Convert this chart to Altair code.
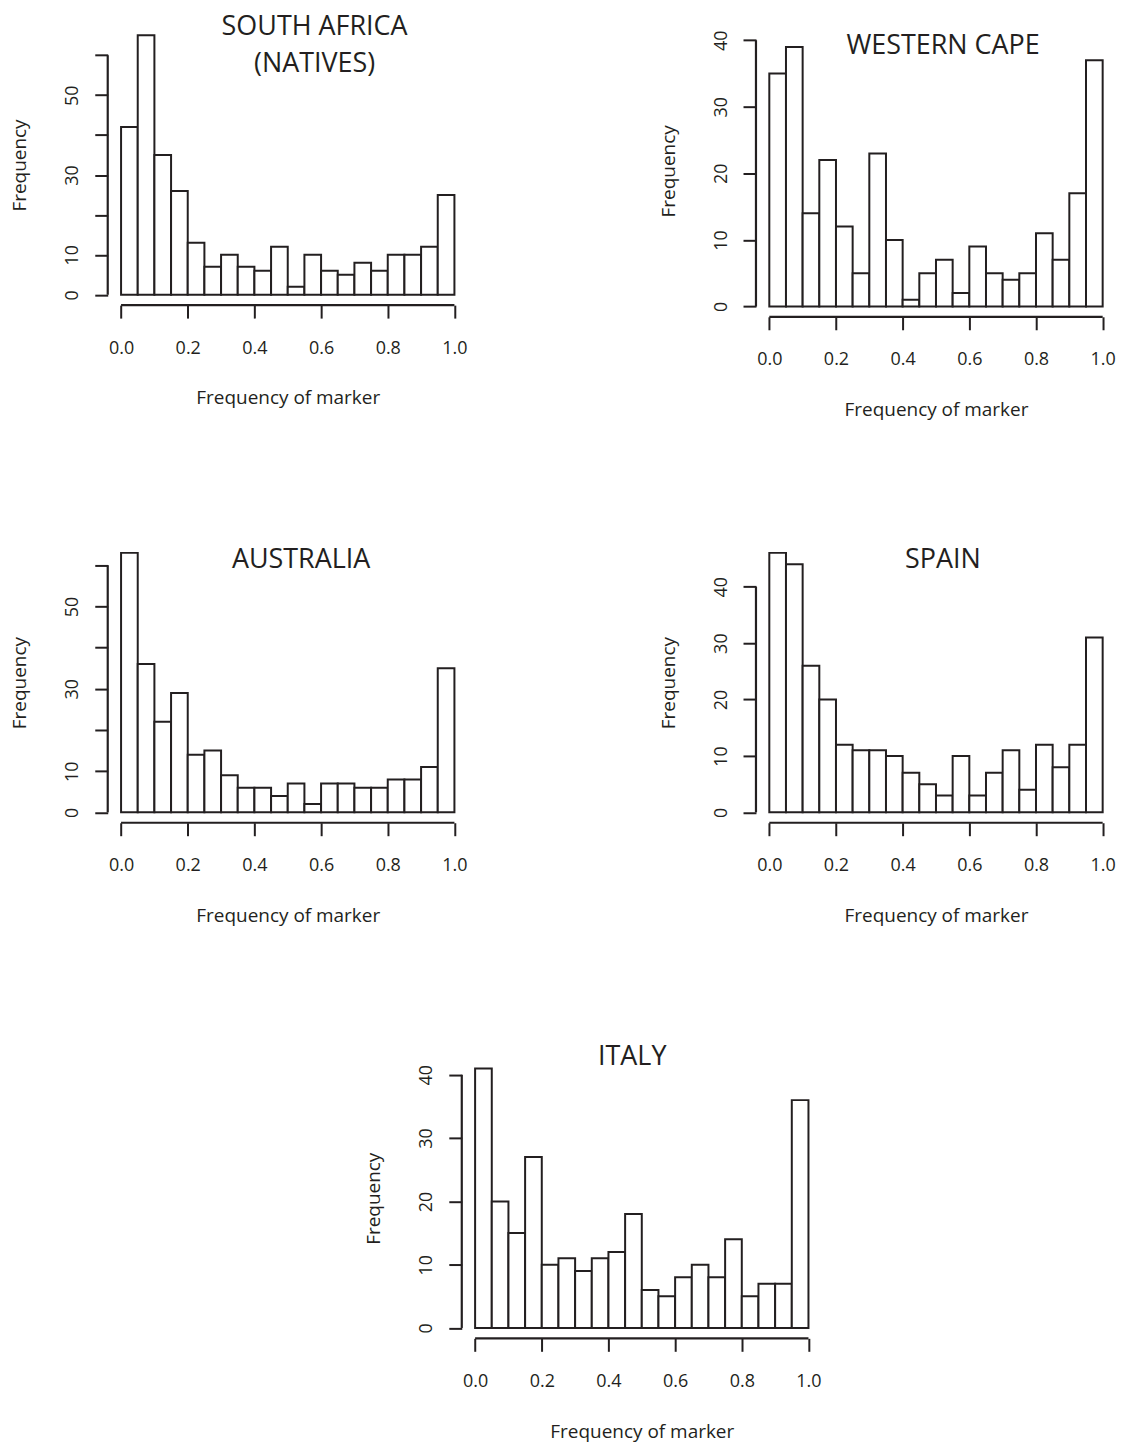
import altair as alt
import pandas as pd

INK = "#231f20"
FONT = "Open Sans"

BIN_EDGES = [0.00, 0.05, 0.10, 0.15, 0.20, 0.25, 0.30, 0.35, 0.40, 0.45, 0.50,
             0.55, 0.60, 0.65, 0.70, 0.75, 0.80, 0.85, 0.90, 0.95, 1.00]
X_TICKS = [0.0, 0.2, 0.4, 0.6, 0.8, 1.0]
X_TITLE = "Frequency of marker"
Y_TITLE = "Frequency"

SA_TITLE = ["SOUTH AFRICA", "(NATIVES)"]
SA_COUNTS = [42, 65, 35, 26, 13, 7, 10, 7, 6, 12, 2, 10, 6, 5, 8, 6, 10, 10, 12, 25]
SA_YTICKS = [0, 10, 20, 30, 40, 50, 60]
SA_YLABELS = [0, 10, 30, 50]

WC_TITLE = ["WESTERN CAPE"]
WC_COUNTS = [35, 39, 14, 22, 12, 5, 23, 10, 1, 5, 7, 2, 9, 5, 4, 5, 11, 7, 17, 37]
WC_YTICKS = [0, 10, 20, 30, 40]
WC_YLABELS = [0, 10, 20, 30, 40]

AU_TITLE = ["AUSTRALIA"]
AU_COUNTS = [63, 36, 22, 29, 14, 15, 9, 6, 6, 4, 7, 2, 7, 7, 6, 6, 8, 8, 11, 35]
AU_YTICKS = [0, 10, 20, 30, 40, 50, 60]
AU_YLABELS = [0, 10, 30, 50]

ES_TITLE = ["SPAIN"]
ES_COUNTS = [46, 44, 26, 20, 12, 11, 11, 10, 7, 5, 3, 10, 3, 7, 11, 4, 12, 8, 12, 31]
ES_YTICKS = [0, 10, 20, 30, 40]
ES_YLABELS = [0, 10, 20, 30, 40]

IT_TITLE = ["ITALY"]
IT_COUNTS = [41, 20, 15, 27, 10, 11, 9, 11, 12, 18, 6, 5, 8, 10, 8, 14, 5, 7, 7, 36]
IT_YTICKS = [0, 10, 20, 30, 40]
IT_YLABELS = [0, 10, 20, 30, 40]

PLOT_W = 361
PLOT_H = 281


def panel(title, counts, yticks, ylabels, extra_top, title_x, title_y):
    ymax = max(counts)
    ppu = PLOT_H / (1.08 * ymax)
    dom = [-0.04 * ymax, 1.04 * ymax + extra_top / ppu]
    h = PLOT_H + extra_top
    df = pd.DataFrame({"lo": BIN_EDGES[:-1], "hi": BIN_EDGES[1:], "n": counts})
    xs = alt.Scale(domain=[-0.04, 1.04], nice=False, zero=False)
    ys = alt.Scale(domain=dom, nice=False, zero=False)
    lbl = ",".join(str(v) for v in ylabels)
    xaxis = alt.Axis(values=X_TICKS, format=".1f", title=X_TITLE,
                     labelPadding=21, titlePadding=32)
    yaxis = alt.Axis(values=yticks, title=Y_TITLE, labelAngle=270,
                     labelAlign="center", labelBaseline="bottom",
                     labelPadding=13,
                     labelExpr=f"indexof([{lbl}], datum.value) >= 0 ? datum.label : ''",
                     titlePadding=34)
    bars = alt.Chart(df).mark_rect(fill="white", stroke=INK, strokeWidth=2).encode(
        x=alt.X("lo:Q", scale=xs, axis=xaxis),
        x2="hi",
        y=alt.Y("n:Q", scale=ys, axis=yaxis),
        y2=alt.datum(0),
    )
    ydf = pd.DataFrame({"a": [yticks[0]], "b": [yticks[-1]]})
    yline = alt.Chart(ydf).mark_rule(stroke=INK, strokeWidth=2.2).encode(
        y=alt.Y("a:Q", scale=ys, axis=yaxis), y2="b", x=alt.value(0))
    xdf = pd.DataFrame({"a": [X_TICKS[0]], "b": [X_TICKS[-1]]})
    xline = alt.Chart(xdf).mark_rule(stroke=INK, strokeWidth=2.2).encode(
        x=alt.X("a:Q", scale=xs, axis=xaxis), x2="b", y=alt.value(h))
    tdf = pd.DataFrame({"t": ["\n".join(title)]})
    ttl = alt.Chart(tdf).mark_text(
        font=FONT, fontSize=27, color=INK, align="center", baseline="alphabetic",
        lineBreak="\n", lineHeight=37.5,
    ).encode(text="t:N", x=alt.value(title_x), y=alt.value(title_y))
    return alt.layer(bars, yline, xline, ttl).properties(width=PLOT_W, height=h)


sa = panel(SA_TITLE, SA_COUNTS, SA_YTICKS, SA_YLABELS, 0, 207.4, 10)
wc = panel(WC_TITLE, WC_COUNTS, WC_YTICKS, WC_YLABELS, 11.7, 187.6, 29)
au = panel(AU_TITLE, AU_COUNTS, AU_YTICKS, AU_YLABELS, 0, 193.9, 26)
es = panel(ES_TITLE, ES_COUNTS, ES_YTICKS, ES_YLABELS, 0, 187.4, 26)
it = panel(IT_TITLE, IT_COUNTS, IT_YTICKS, IT_YLABELS, 0, 170.9, 6.8)

spacer = alt.Chart(pd.DataFrame({"v": [0]})).mark_point(opacity=0).encode(
    x=alt.value(0), y=alt.value(0)).properties(width=258, height=1)

row1 = alt.hconcat(sa, wc, spacing=192)
row2 = alt.hconcat(au, es, spacing=192)
row3 = alt.hconcat(spacer, it, spacing=0)

top_rows = alt.vconcat(row1, row2, spacing=123)

chart = alt.vconcat(top_rows, row3, spacing=117).properties(
    padding={"left": 2, "top": 3, "right": 0, "bottom": 0}
).configure_view(strokeWidth=0).configure_axis(
    domain=False, grid=False, ticks=True, tickSize=13, tickWidth=2, tickColor=INK,
    labelFont=FONT, labelFontSize=18, labelColor=INK, labelFlush=False, labelOverlap=False,
    titleFont=FONT, titleFontSize=19, titleFontWeight="normal", titleColor=INK,
)

chart.save("out.html", embed_options={"renderer": "svg", "actions": False})
